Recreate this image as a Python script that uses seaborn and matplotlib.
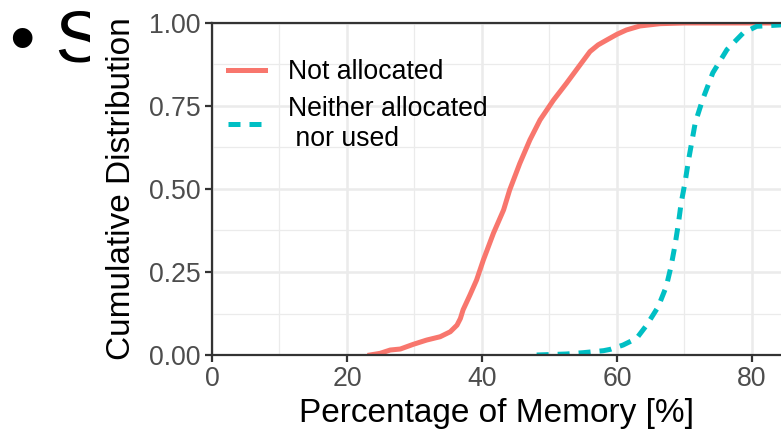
import numpy as np
import pandas as pd
import matplotlib
matplotlib.use("Agg")
import matplotlib.pyplot as plt
import seaborn as sns
from matplotlib.patches import Rectangle

# ---- data ----
series_names = ["Not allocated", "Neither allocated\n nor used"]

not_alloc_pct = [23.4, 24.9, 26.4, 27.9, 29.8, 31.8, 33.8, 35.3, 36.3, 36.8, 37.2, 38.2,
                 39.2, 40.2, 41.7, 43.2, 44.1, 45.6, 47.1, 48.6, 50.6, 52.5, 54.5,
                 56.0, 57.2, 58.5, 60.0, 61.4, 63.4, 66.4, 70.0, 86.0]
not_alloc_cdf = [0.0, 0.005, 0.015, 0.018, 0.032, 0.045, 0.055, 0.07, 0.09, 0.11, 0.136, 0.18,
                 0.226, 0.286, 0.367, 0.437, 0.497, 0.577, 0.648, 0.708, 0.768, 0.818, 0.873,
                 0.914, 0.934, 0.949, 0.966, 0.979, 0.991, 0.998, 1.0, 1.0]

neither_pct = [48.1, 52.5, 55.0, 58.0, 59.0, 60.9, 62.9, 64.4, 66.1, 67.3, 68.0, 68.6,
               69.1, 69.5, 70.1, 70.6, 71.6, 72.7, 74.2, 76.3, 78.7, 80.7, 84.1, 86.0]
neither_cdf = [0.0, 0.003, 0.007, 0.013, 0.017, 0.03, 0.05, 0.09, 0.145, 0.206, 0.266, 0.331,
               0.396, 0.457, 0.522, 0.587, 0.70, 0.77, 0.85, 0.92, 0.97, 0.99, 0.994, 1.0]

x_ticks = [0, 20, 40, 60, 80]
x_minor = [10, 30, 50, 70]
y_ticks = [0.0, 0.25, 0.50, 0.75, 1.00]
y_tick_labels = ["0.00", "0.25", "0.50", "0.75", "1.00"]
y_minor = [0.125, 0.375, 0.625, 0.875]

df = pd.concat([
    pd.DataFrame({"pct": not_alloc_pct, "cdf": not_alloc_cdf, "series": series_names[0]}),
    pd.DataFrame({"pct": neither_pct, "cdf": neither_cdf, "series": series_names[1]}),
], ignore_index=True)

# ---- style ----
plt.rcParams["font.family"] = ["Liberation Sans", "DejaVu Sans"]
colors = {series_names[0]: "#F8766D", series_names[1]: "#00BFC4"}
dashes = {series_names[0]: "", series_names[1]: (2.4, 1.8)}
LW = 3.6

fig = plt.figure(figsize=(7.81, 4.36), dpi=100)

# slide bullet partially hidden behind the chart image
fig.text(10 / 781, 1 - 62 / 436, "\u2022 S", fontsize=52, color="black",
         va="baseline", ha="left", zorder=-2)
fig.patches.append(Rectangle((90 / 781, 0), 1, 1, transform=fig.transFigure,
                             facecolor="white", edgecolor="none", zorder=-1))

ax = fig.add_axes([212 / 781, 81 / 436, 569 / 781, 332 / 436])

sns.lineplot(data=df, x="pct", y="cdf", hue="series", style="series",
             palette=colors, dashes=dashes, linewidth=LW, estimator=None,
             sort=False, ax=ax, legend=True)

ax.set_xlim(0, 84.3)
ax.set_ylim(0, 1)
ax.set_xticks(x_ticks)
ax.set_xticks(x_minor, minor=True)
ax.set_yticks(y_ticks)
ax.set_yticklabels(y_tick_labels)
ax.set_yticks(y_minor, minor=True)

ax.grid(which="major", color="#EBEBEB", linewidth=1.8)
ax.grid(which="minor", color="#EBEBEB", linewidth=0.9)
ax.set_axisbelow(True)

for side in ["left", "bottom", "top"]:
    ax.spines[side].set_color("#333333")
    ax.spines[side].set_linewidth(1.6)
ax.spines["right"].set_visible(False)

ax.tick_params(which="major", direction="out", length=5, width=1.6, color="#333333",
               labelsize=19.2, labelcolor="#4D4D4D", pad=3)
ax.tick_params(which="minor", length=0)

ax.set_xlabel("Percentage of Memory [%]", fontsize=24, color="black", labelpad=4)
ax.set_ylabel("Cumulative Distribution", fontsize=24, color="black", labelpad=9)

handles, labels = ax.get_legend_handles_labels()
for h in handles:
    h.set_linewidth(LW)
leg = ax.legend(handles, labels, loc="upper left", bbox_to_anchor=(16 / 569, 0.892),
                frameon=False, fontsize=19.2, handlelength=1.4, handletextpad=0.85,
                labelspacing=0.4, borderpad=0, borderaxespad=0)

fig.savefig("out.png", dpi=100)
